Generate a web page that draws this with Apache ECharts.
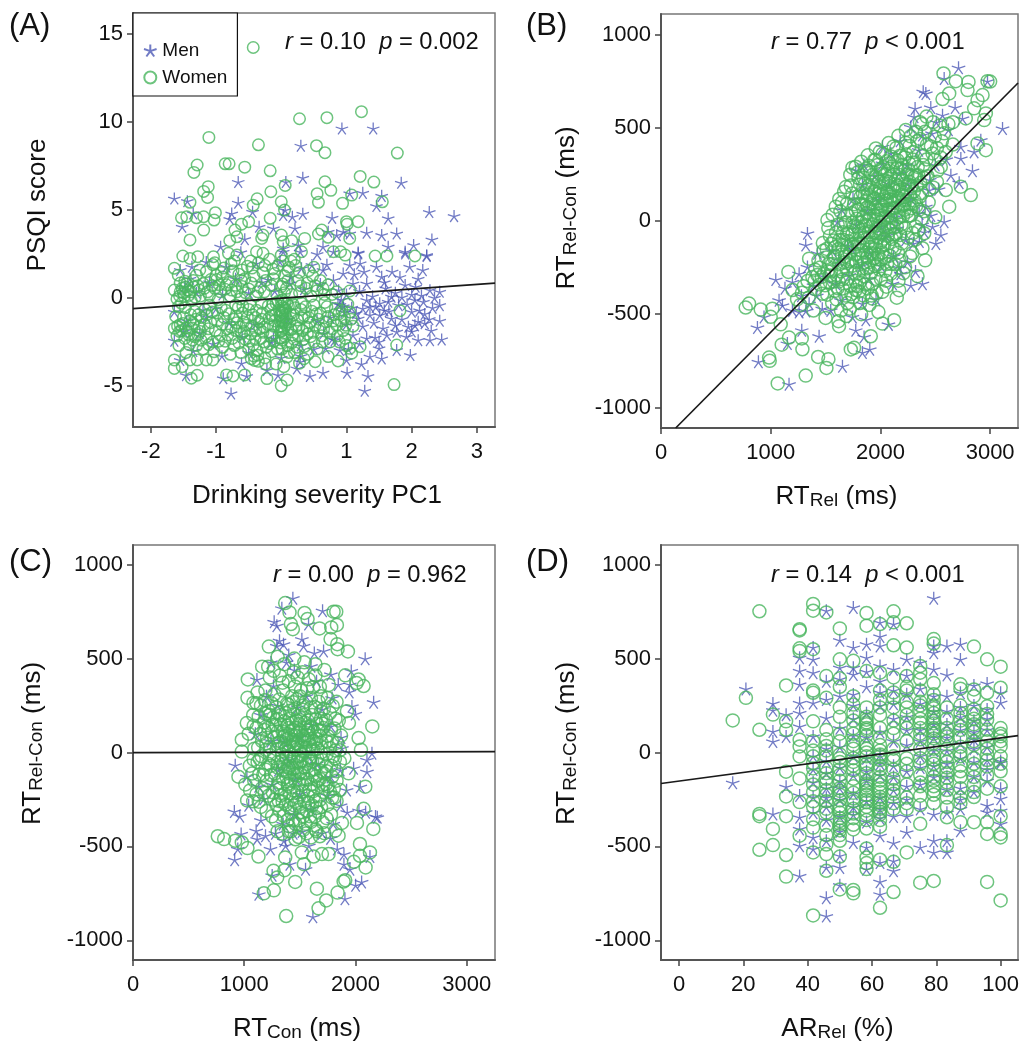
<!DOCTYPE html>
<html><head><meta charset="utf-8">
<style>html,body{margin:0;padding:0;background:#fff}#c{width:1033px;height:1050px}</style>
<script src="https://cdn.jsdelivr.net/npm/echarts@6/dist/echarts.min.js"></script>
</head><body><div id="c"></div>
<script>
const menA=[[-1.64,5.66],[-1.44,5.51],[-1.35,4.81],[-1.52,4.05],[-.66,6.6],[-.66,5.42],[-.76,4.8],[-.79,4.49],[-.44,4.9],[.07,6.6],[.33,6.84],[.3,8.66],[.93,9.64],[1.41,9.64],[1.84,6.55],[1.05,5.95],[1.25,5.98],[1.54,5.81],[1.46,5.23],[2.27,4.89],[2.65,4.66],[1.64,4.53],[.78,4.56],[.33,4.79],[.06,5],[.03,4.72],[.17,4.62],[-.12,3.96],[-.34,4.05],[.21,3.96],[-.56,3.35],[-.93,2.92],[.03,2.82],[.26,3.01],[.64,2.92],[.72,3.77],[.85,3.58],[.95,3.77],[1.05,3.67],[1.31,3.71],[1.54,3.58],[1.77,3.67],[2.31,3.33],[2.03,3.01],[1.64,2.92],[1.9,2.63],[2.23,2.39],[1.18,2.59],[.8,2.63],[.03,2.63],[.29,2.63],[1.18,2.54],[1.9,2.54],[2.23,2.44],[-1.55,1.59],[-1.37,1.78],[-.84,1.78],[-.38,1.97],[-.02,2.06],[.31,1.69],[.47,1.88],[.64,1.59],[1.05,1.88],[1.21,1.97],[1.46,1.78],[1.7,1.5],[1.97,1.78],[2.17,1.59],[.13,.83],[.8,1.02],[.95,1.4],[1.1,.83],[1.31,.83],[1.54,1.21],[1.9,.74],[2.06,.64],[2.28,.45],[2.43,.36],[-1.64,-.78],[-1.15,-1.06],[-1.2,-.68],[.9,-.4],[.87,-.32],[.95,-.47],[2.05,-.11],[2.18,-.21],[2.43,-.4],[1.31,-.11],[1.51,-.3],[1.64,-.21],[1.69,.08],[1.18,-1.16],[1.36,-.97],[1.51,-.97],[1.69,-1.16],[2,-.78],[1.95,-1.63],[2.1,-1.34],[2.2,-1.43],[2.43,-1.29],[1.56,-1.72],[1.77,-1.91],[1.92,-2.2],[2.1,-2.39],[2.28,-2.39],[2.46,-2.35],[.82,-2.39],[1.31,-2.29],[1.5,-2.48],[1.44,-2.24],[1.5,-2.86],[1.77,-2.95],[1.98,-3.24],[1.36,-3.33],[1.54,-3.43],[1.23,-3.75],[1,-3.52],[1.01,-4.24],[1.33,-4.43],[1.28,-5.27],[.64,-4.24],[.44,-4.43],[-.05,-4.38],[.24,-4],[.29,-3.62],[-.53,-4.43],[-.89,-4.56],[-.77,-5.42],[-1.46,-4.38],[-1.55,-3.52],[-1.64,-2.42],[-.91,-3.3],[-.61,-3.71],[-.22,-4.09],[-.12,-2.29],[.78,-2.33],[-1.4,1.1],[-1.3,.3],[-1.1,.9],[-.9,.2],[-.7,1.1],[-.5,.3],[-.3,.9],[-.1,.4],[.15,1.2],[.35,.5],[.6,.8],[1,.2],[1.2,.4],[1.4,.1],[1.6,.55],[1.75,.3],[2,.2],[2.15,.15],[-1.45,-1.3],[-1.25,-2],[-1.05,-2.6],[-.8,-1.4],[-.6,-2.2],[-.4,-1.5],[-.15,-2.5],[.1,-1.2],[.3,-2.7],[.55,-1.3],[.75,-1.1],[1,-1.5],[1.25,-.6],[1.45,-.5],[1.8,-.4],[1.85,-1.2],[2,-1.9],[2.2,-.9],[2.3,-1.85],[1.1,-2.1],[1.25,-1.6],[.65,-2],[-1.5,-1.9],[-1.35,-3],[-1,-.6],[-.5,-3.1],[0,-3.4],[.3,-3.3],[.5,-2.9],[.9,-2.95],[1.12,1.35],[1.27,1.5],[1.58,.9],[1.82,1.2],[2.1,1.1],[1.36,-.5],[1.58,-.7],[1.93,-.35],[1.08,-.55],[1.15,-.85],[1.42,-1.4],[1.65,-.75],[1.75,-1.55],[2.12,-.7],[2.32,-.55],[2.27,-1.2],[2.05,-1.55],[1.62,-2.1],[1.2,-2.6],[.97,-.8],[.92,-.1],[.88,.45],[.7,1.9],[.55,2.5],[-.2,1.05],[-.62,2.6],[-1.15,2.05],[-1.48,.65],[1.85,.05],[2.35,.02],[1.03,-2.9],[.68,-2.85]];
const womenA=[[-.43,14.24],[1.23,10.59],[.28,10.19],[.7,10.25],[-1.11,9.13],[-.35,8.71],[.54,8.66],[.67,8.26],[1.78,8.24],[-1.29,7.56],[-1.34,7.14],[-.86,7.63],[-.8,7.63],[-.56,7.44],[-.17,7.23],[1.21,6.91],[1.42,6.59],[.67,6.61],[.76,6.12],[.06,6.4],[-1.12,6.33],[-1.19,6.06],[-1.13,5.72],[-.37,5.64],[-.16,6.04],[.55,5.93],[.57,5.44],[0,5.47],[-.43,5.28],[-1.4,5.44],[.94,5.38],[1.08,5.85],[1.55,5.47],[.05,5],[-1.53,4.56],[-1.45,4.62],[-1.3,4.56],[-1.19,4.62],[-1.01,4.85],[-1.03,4.43],[-1.19,3.86],[-.61,4.2],[-.5,4.34],[-.17,4.53],[1,4.34],[1.18,4.34],[1.01,4.2],[-1.4,3.3],[-.71,3.86],[-.68,3.48],[-.79,3.26],[-.3,3.39],[-.28,3.58],[0,3.58],[.03,3.2],[.16,3.26],[.36,3.39],[.62,3.86],[.57,3.64],[.72,3.45],[1.05,3.39],[-1.51,2.39],[-1.4,2.25],[-1.28,2.35],[-1.04,2.35],[-.81,2.54],[-.68,2.44],[-.38,2.63],[-.28,2.54],[0,2.44],[.31,2.63],[.8,2.63],[.91,2.63],[.98,2.44],[1.44,2.39],[1.62,2.39],[2.05,2.39],[-1.64,1.69],[-1.64,.45],[-1.64,-1.72],[-1.64,-3.52],[-1.64,-4],[-1.52,-3.9],[-1.38,-4.56],[-1.29,-4.39],[-1.29,-3.52],[-1.4,-3.52],[-1.15,-3.52],[-1.05,-3.52],[-.84,-4.37],[-.74,-4.43],[-.56,-4.37],[-.22,-4.58],[0,-4.98],[.09,-4.66],[.52,-3.62],[.72,-3.33],[.87,-3.58],[1.08,-3.14],[1.05,-2.86],[1.21,-2.77],[1.77,-2.67],[1.73,-4.92],[1.82,-.72],[-1.58,1.3],[-1.55,.85],[-1.52,.55],[-1.5,.3],[-1.47,.62],[-1.42,.15],[-1.35,1],[-1.28,.7],[-1.25,1.6],[-1.15,1.5],[-1.05,1.9],[-1,1.3],[-.95,.75],[-.88,1.7],[-.8,.9],[-.72,2.1],[-.65,1.35],[-.6,.65],[-.52,1.8],[-.42,1.25],[-.35,2],[-.28,1.45],[-.18,2.2],[-.1,1.4],[-.05,1.85],[.02,2.1],[.05,1.25],[.08,.55],[.12,1.75],[.2,2.2],[.25,1],[.38,.55],[.48,1.25],[.55,.42],[.66,.2],[.72,.75],[-1.58,-.5],[-1.55,-1.5],[-1.5,-1.1],[-1.47,-.55],[-1.44,-1.9],[-1.4,-1.3],[-1.36,-2.4],[-1.33,-.75],[-1.3,-2.7],[-1.26,-1.65],[-1.22,-1.1],[-1.2,-2.9],[-1.12,-1.75],[-1.1,-.4],[-1.05,-2.5],[-.98,-1.3],[-.92,-.55],[-.9,-2.8],[-.83,-1.75],[-.8,-.9],[-.75,-2.3],[-.7,-.4],[-.68,-1.4],[-.65,-2.55],[-.6,-.85],[-.57,-1.9],[-.52,-1.1],[-.5,-2.9],[-.48,-.35],[-.45,-1.6],[-.42,-3.3],[-.4,-2.3],[-.38,-.7],[-.35,-3.6],[-.3,-1.2],[-.28,-1.95],[-.25,-3.4],[-.2,-.45],[-.18,-2.6],[-.15,-1],[-.12,-1.6],[-.08,-3.75],[-.05,-.2],[-.03,-.7],[-.02,-1.3],[-.01,-1.9],[0,-.45],[0,-1.05],[0,-1.6],[0,-2.25],[.01,-2.9],[.02,-.1],[.02,-.85],[.03,-1.4],[.03,-2],[.04,-3.9],[.05,.3],[.06,-.6],[.08,-1.15],[.1,-2.7],[.12,-3.1],[.15,-1.8],[.18,-.35],[.2,-2.35],[.25,-1.25],[.28,-3.7],[.3,-.65],[.33,-1.85],[.36,-2.75],[.42,-1.1],[.45,-2.2],[.5,-.4],[.52,-1.55],[.55,-2.9],[.6,-.85],[.65,-1.75],[.7,-.5],[.75,-2.5],[.8,-1.3],[.88,-.9],[.95,-1.85],[1,-2.7],[1.05,-.8],[1.1,-1.6],[1.05,.4],[.85,.35],
[-1.6,-.05],[-1.56,.12],[-1.53,-.3],[-1.48,.95],[-1.43,.45],[-1.38,-.15],[-1.34,.62],[-1.3,1.3],[-1.24,.1],[-1.2,.82],[-1.13,.35],[-1.08,1.05],[-1.02,.55],[-.97,-.1],[-.9,1.2],[-.86,.5],[-.78,.1],[-.74,1.55],[-.7,.72],[-.63,-.05],[-.56,1.1],[-.5,.52],[-.45,1.7],[-.39,.12],[-.32,.6],[-.24,1],[-.15,.7],[-.07,.2],[.02,.8],[.1,1.55],[.16,.2],[.22,1.85],[.3,.7],[.42,1.55],[.46,.1],[.6,1],[.64,.55],[.78,.2],[-1.62,-1.05],[-1.6,-2.15],[-1.57,-2.7],[-1.53,-1.85],[-1.48,-2.3],[-1.46,-3.1],[-1.41,-2.65],[-1.37,-1.7],[-1.31,-1.2],[-1.28,-2.1],[-1.23,-2.4],[-1.17,-.65],[-1.15,-2.2],[-1.08,-1.4],[-1.03,-3.05],[-.98,-.85],[-.94,-2.1],[-.88,-1.1],[-.86,-2.45],[-.78,-3.2],[-.73,-1.2],[-.7,-1.85],[-.66,-.55],[-.62,-3.1],[-.58,-1.35],[-.55,-2.35],[-.5,-.65],[-.47,-2.05],[-.43,-2.65],[-.4,-1.1],[-.37,-3],[-.33,-1.75],[-.3,-.3],[-.27,-2.5],[-.24,-3.75],[-.21,-1.5],[-.16,-.65],[-.14,-2.1],[-.1,-1.3],[-.08,-.3],[-.06,-2.9],[-.04,-1.65],[-.02,-.95],[-.01,-2.55],[0,-.15],[.01,-.75],[.01,-1.3],[.01,-1.85],[.02,-2.4],[.03,-.55],[.03,-1.15],[.04,-1.7],[.05,-.25],[.06,-.95],[.06,-2.2],[.07,-1.5],[.09,-3.35],[.11,-.45],[.13,-1.35],[.16,-2.55],[.19,-.95],[.23,-1.6],[.26,-2.15],[.31,-.3],[.35,-1],[.39,-1.65],[.41,-3.2],[.47,-.75],[.5,-2.5],[.57,-1.2],[.62,-2.15],[.67,-.25],[.72,-1.05],[.78,-1.75],[.83,-.6],[.86,-2.15],[.92,-1.3],[.98,-2.3],[1.02,-.35],[1.07,-1.2],[-.15,-3.05],[.35,-3.45],[.2,-3.1],
[-1.59,-1.6],[-1.56,-1.9],[-1.51,-1.45],[-1.46,-1.7],[-1.42,-2.1],[-1.39,-.95],[-1.35,-1.45],[-1.33,-2.2],[-1.27,-.95],[-1.24,-1.9],[-1.18,-1.5],[-1.14,-.95],[-1.11,-2.65],[-1.06,-.8],[-1.01,-1.85],[-.96,-2.45],[-.91,-1.5],[-.85,-.7],[-.82,-2.1],[-.77,-1.65],[-.72,-2.7],[-.69,-1.05],[-.64,-1.65],[-.61,-2.05],[-.59,-.45],[-.54,-1.55],[-.49,-2.45],[-.46,-3.45],[-.44,-.95],[-.41,-3.55],[-.39,-1.85],[-.36,-3.25],[-.34,-1.35],[-.31,-2.3],[-.29,-.85],[-.26,-1.65],[-.23,-2.8],[-.19,-1.15],[-.17,-2.15],[-.13,-.35],[-.11,-2.45],[-.09,-.95],[.07,-.7],[.09,-.3],[.1,-1.75],[.14,-.9],[.17,-2.1],[.21,-.55],[.24,-2.8],[.27,-1.7],[.32,-1.15],[.34,-2.35],[.37,-.5],[.4,-2.05],[.44,-1.4],[.49,-1.95],[.54,-.9],[.59,-1.7],[.63,-2.5],[.69,-1.35],[.74,-1.95],[.81,-.95],[.85,-1.55],[.89,-2.5],[.93,-.7],[.97,-1.1],[.99,-1.55],[-1.55,.35],[-1.49,.1],[-1.45,.8],[-1.39,.35],[-1.32,.05],[-1.26,.45],[-1.18,.55],[-1.1,.15],[-1.06,.7],[-.99,1.05],[-.93,.35],[-.84,.75],[-.76,.45],[-.68,.35],[-.61,1],[-.55,.3],[-.46,.85],[-.36,.35],[-.26,.35],[-.12,1.1],[0,.65],[.1,1],[.28,.3],[.4,.85],[.52,.7],[-1.02,2],[-.92,1.45],[-.77,1.95],[-.6,1.6],[-.47,2.1],[-.25,1.85],[-.13,1.65],[.15,2.1],[.28,1.45],[.5,1.75]];
const menB=[[2712,822],[2581,764],[2976,750],[2390,693],[2414,684],[2316,604],[2459,609],[2681,609],[2566,568],[2307,559],[2748,550],[3113,496],[2277,505],[2915,434],[2733,398],[2019,398],[2095,363],[2854,371],[2733,336],[2839,270],[2642,246],[2718,205],[1775,273],[1836,193],[2444,166],[2581,-4],[2475,-30],[2551,-75],[2505,-120],[1608,-4],[1335,-66],[1319,-129],[1426,-173],[2353,41],[2414,77],[2383,461],[2171,255],[2019,309],[1046,-314],[879,-571],[1076,-425],[939,-514],[1283,-586],[1441,-618],[1152,-657],[888,-755],[1167,-875],[1654,-779],[1836,-705],[1903,-688],[1851,-621],[1775,-586],[2073,-554],[1867,-529],[1745,-514],[1547,-479],[2383,-336],[2277,-345],[2186,-282],[2247,-220],[1259,-488],[1320,-482],[1350,-443],[1198,-479],[1107,-452],[1259,-282],[1198,-327],[1335,-246],[1593,-336],[1715,-291],[2110,-336],[1836,-443],[2500,300],[2350,380],[2450,220],[2280,120],[2180,430],[2080,200],[1980,110],[1880,60],[1780,-20],[1700,-130],[1620,-210],[1900,-170],[2050,-80],[2150,-40],[2300,-120],[2400,-60],[1420,-400],[1500,-300],[1900,-310],[2000,-240],[2120,-190],[1650,60],[1750,120],[1850,300],[1950,240],[2240,300],[1130,-360],[1280,-400],[1390,-345],[1470,-470],[1640,-425],[1960,-420],[2170,-250],[2320,-270],[2355,-110],[2460,30],[2530,170],[2600,330],[2470,470],[2510,530],[2620,490],[2250,200],[2130,20],[2010,-30],[1740,-150],[1560,-160],[1830,-240],[2230,-100],[2380,-20]];
const womenB=[[2575,791],[2687,750],[2803,746],[2976,750],[3000,748],[2794,702],[2627,684],[2566,654],[2931,675],[2885,648],[2854,604],[2778,550],[2961,577],[2946,541],[2164,457],[2231,488],[2322,479],[1958,389],[1943,327],[1775,291],[1745,286],[2885,416],[2961,380],[2596,166],[2733,184],[2824,139],[2627,77],[1669,157],[1593,77],[1517,5],[2399,-66],[2383,-146],[772,-464],[803,-443],[909,-475],[1015,-470],[1000,-514],[1091,-554],[1167,-625],[1100,-663],[1283,-630],[1289,-688],[985,-732],[991,-750],[1432,-729],[1526,-741],[1508,-788],[1319,-829],[1064,-871],[1730,-689],[1760,-680],[1912,-618],[1617,-537],[1623,-564],[2018,-550],[2125,-532],[1982,-488],[1927,-416],[2018,-380],[2149,-411],[2171,-371],[2338,-296],[2408,-211],[1350,-202],[1161,-273],[1240,-420],[1300,-350],[1380,-300],[1390,-480],[1450,-250],[1470,-390],[1480,-160],[1500,-520],[1540,-80],[1540,-330],[1560,-230],[1560,-440],[1590,-140],[1610,-20],[1610,-360],[1640,-270],[1640,-480],[1650,100],[1660,-100],[1680,-190],[1680,-400],[1700,30],[1700,-310],[1720,-60],[1720,-470],[1730,190],[1745,-240],[1760,90],[1760,-140],[1775,-370],[1790,-30],[1800,230],[1800,-280],[1815,-440],[1820,130],[1830,-200],[1840,20],[1850,-90],[1860,-340],[1870,280],[1880,170],[1890,-250],[1900,70],[1905,-140],[1915,-30],[1920,-400],[1930,210],[1940,-200],[1950,120],[1955,-310],[1965,10],[1975,300],[1980,-90],[1990,-260],[2000,180],[2005,60],[2015,-170],[2020,360],[2030,-30],[2040,250],[2050,-320],[2060,110],[2070,-120],[2080,310],[2090,20],[2100,-230],[2110,180],[2120,400],[2130,70],[2140,-70],[2150,280],[2160,-170],[2170,120],[2180,350],[2190,-20],[2200,220],[2210,-280],[2220,60],[2230,420],[2240,160],[2250,-90],[2260,310],[2270,-190],[2280,30],[2290,240],[2300,370],[2310,110],[2320,-30],[2330,190],[2340,290],[2350,60],[2360,440],[2380,150],[2400,230],[2420,330],[2440,100],[2460,400],[2480,180],[2500,20],[2520,270],[2550,340],[2580,470],[2620,520],[2480,530],[2420,560],[2380,520],[1850,-30],[1925,90],[1985,-40],[2045,60],[2095,130],[1895,-60],[1960,-130],[2025,-60],[2085,-50],[2145,10],[1835,-120],[1780,-220],[1720,-170],[1800,60],[1870,110],[1940,30],[2010,140],[2075,210],[2155,190],[2215,130],[2265,90],[1985,210],[2055,320],[1910,260],[1860,200],[2125,250],[2185,280],[2245,250],[2000,-10],[1945,-60],[1870,-170],[1815,-70],[1755,-30],[1695,-70],[1650,-180],[1600,-290],[1810,-330],[1750,-410],[1690,-510],[1600,-420],[1530,-230],[1450,-340],[1900,-220],[1980,-180],[2060,-230],[2130,-150],[1200,-370],[1270,-450],
[1285,-385],[1345,-412],[1405,-365],[1515,-395],[1585,-375],[1655,-362],[1735,-392],[1805,-378],[1885,-362],[1965,-384],[2055,-352],[1335,-322],[1425,-290],[1495,-345],[1575,-325],[1655,-312],[1725,-348],[1775,-322],[1845,-296],[1925,-338],[2005,-310],[2095,-282],[2165,-320],[1405,-262],[1485,-282],[1545,-292],[1625,-232],[1695,-262],[1765,-278],[1835,-255],[1915,-278],[1975,-232],[2045,-268],[2135,-232],[2225,-248],[1435,-212],[1505,-196],[1585,-188],[1665,-222],[1735,-208],[1795,-176],[1855,-222],[1925,-178],[2005,-208],[2085,-186],[2175,-210],[2290,-172],[1475,-118],[1555,-122],[1625,-102],[1705,-108],[1775,-96],[1825,-158],[1885,-118],[1945,-148],[2035,-128],[2105,-96],[2195,-120],[2320,-100],[1525,-38],[1595,-62],[1665,-22],[1745,-72],[1805,-118],[1865,-22],[1905,-88],[1995,-62],[2065,-36],[2125,-72],[2225,-38],[2350,-48],[1565,34],[1635,52],[1685,-8],[1735,42],[1785,12],[1825,-10],[1875,42],[1955,72],[2025,12],[2105,44],[2175,22],[2255,28],[2375,10],[1625,118],[1695,92],[1775,128],[1845,88],[1905,132],[1975,62],[2045,108],[2115,96],[2195,82],[2275,68],[2395,52],[1685,182],[1745,148],[1815,196],[1885,142],[1955,172],[2025,198],[2085,152],[2145,132],[2235,112],[2305,160],[2445,168],[1725,248],[1795,262],[1845,232],[1925,246],[1995,252],[2065,268],[2135,198],[2205,172],[2285,188],[2365,205],[2515,210],[1825,318],[1895,296],[1955,328],[2025,288],[2105,292],[2175,246],[2255,276],[2325,242],[2405,278],[2495,328],[1885,352],[1995,372],[2095,346],[2155,326],[2235,358],[2305,312],[2385,352],[2475,362],[2550,290],[2075,418],[2145,392],[2265,402],[2335,428],[2425,410],[2515,392],[2595,370],[2275,454],[2405,478],[2495,452],[2560,428],[2660,410],[2360,530],[2540,512],[2660,530],
[1745,-8],[1775,55],[1805,-42],[1825,90],[1855,-62],[1875,-2],[1885,75],[1905,12],[1925,-118],[1935,-18],[1945,158],[1965,-65],[1975,40],[1985,95],[2000,-115],[2010,30],[2015,85],[2035,-95],[2045,20],[2055,150],[2065,-80],[2075,62],[2085,115],[2100,-12],[2110,70],[2120,-35],[2125,165],[2135,110],[2150,-30],[2160,50],[2170,165],[2180,-75],[2195,140],[2205,25],[2215,90],[2225,200],[2245,50],[2255,195],[2270,140],[2285,90],[2295,-65],[2310,235],[2325,80],[1840,150],[1855,270],[1895,190],[1915,-170],[1935,115],[1965,225],[1985,148],[2005,280],[2030,160],[2050,215],[2070,160],[2090,240],[2110,-140],[2130,315],[2165,225],[2200,300],[2220,340],[2265,210],[2295,330],[2345,245],[2360,130],[2390,300],[2430,240],[1870,-255],[1880,-195],[1950,-240],[1965,-205],[2020,-135],[2035,-195],[1695,-140],[1715,-215],[1735,-125],[1770,-180],[1790,-125],[1660,-60],[1650,-130],[1620,-150],[1575,-105],[1575,-195],[1510,-150],[1520,-270],[1620,-325],[1700,-225],[1790,-350],[1845,-400],[1900,-450],[1825,-500],[1700,-440],[1550,-270],[1465,-300],[1400,-320]];
const menC=[[1437,822],[1338,768],[1704,755],[1269,696],[1293,675],[1578,684],[1317,595],[1518,604],[1293,568],[1353,577],[1533,568],[2087,500],[1713,541],[1962,434],[1779,416],[1114,389],[1845,362],[1950,362],[1944,323],[2163,268],[1968,246],[1998,205],[1263,354],[2148,-4],[2103,-39],[2103,-102],[1983,-84],[1878,23],[919,-68],[1024,-129],[1308,-93],[1863,-93],[2043,-182],[911,-314],[960,-339],[972,-434],[942,-514],[914,-571],[1107,-416],[1191,-443],[1116,-461],[1236,-514],[1371,-496],[1356,-470],[1581,-496],[1776,-457],[1836,-514],[1896,-541],[1896,-595],[1950,-621],[1410,-595],[1551,-621],[1251,-654],[1131,-755],[2055,-689],[2001,-707],[1905,-779],[1617,-875],[2196,-345],[2180,-340],[2091,-318],[2031,-309],[2130,-554],[1926,-318],[1866,-282],[1446,-327],[1176,-246],[1400,520],[1450,440],[1600,460],[1650,380],[1200,300],[1300,250],[1150,200],[1700,230],[1780,140],[1500,80],[1600,150],[1350,60],[1400,-40],[1650,-60],[1250,-170],[1500,-220],[1750,-230],[1600,-300],[1350,-380],[1800,-380],[1480,240],[1560,300],[1240,480],[1380,480],[1630,530],[1790,290],[1870,80],[1920,-200],[1780,-130],[1150,-360],[1280,-430],[1440,-430],[1520,-420],[1700,-430],[1040,-280],[1130,-180],[1100,100],[1240,60],[1460,-140],[1560,-10]];
const womenC=[[1368,796],[1407,746],[1542,743],[1419,684],[1437,657],[1569,711],[1803,750],[1827,750],[1833,679],[1782,666],[1677,661],[1776,604],[1836,577],[1839,550],[1932,538],[1221,564],[1161,457],[1215,457],[1032,389],[1029,291],[1083,264],[1908,411],[2028,389],[2073,354],[2010,370],[1941,157],[2151,139],[1923,220],[2028,77],[2049,14],[1023,157],[978,68],[978,5],[948,-129],[1938,-111],[2088,-182],[762,-446],[819,-461],[918,-470],[978,-479],[1029,-509],[1128,-554],[1053,-202],[1026,-255],[1263,-630],[1362,-627],[1458,-689],[1296,-666],[1176,-750],[1266,-734],[1653,-725],[1737,-788],[1668,-830],[1377,-871],[1839,-746],[1893,-687],[1908,-680],[2091,-612],[1986,-582],[2040,-550],[2130,-532],[2040,-487],[2013,-375],[2160,-407],[2073,-300],[1878,-375],[1848,-443],[1818,-416],[1518,-532],[1623,-554],[1698,-541],[1758,-541],[1536,-595],[1368,-559],[1300,510],[1360,470],[1450,500],[1540,480],[1640,470],[1720,440],[1230,400],[1320,410],[1400,380],[1480,400],[1580,390],[1680,350],[1760,360],[1120,320],[1190,330],[1270,310],[1350,330],[1430,300],[1510,330],[1600,290],[1670,270],[1750,290],[1830,270],[1080,200],[1150,250],[1220,220],[1290,240],[1370,210],[1450,230],[1530,250],[1610,200],[1690,180],[1770,210],[1850,170],[1040,100],[1110,130],[1180,160],[1250,110],[1330,150],[1400,130],[1470,170],[1550,130],[1630,110],[1710,130],[1790,60],[1870,90],[1090,20],[1160,60],[1230,30],[1310,50],[1380,70],[1450,30],[1520,60],[1590,40],[1660,20],[1740,-10],[1820,10],[1900,-30],[1050,-70],[1120,-50],[1190,-90],[1270,-30],[1340,-10],[1420,-50],[1490,-20],[1560,-60],[1630,-90],[1700,-40],[1780,-70],[1860,-50],[1010,-170],[1090,-150],[1160,-190],[1240,-120],[1310,-160],[1380,-130],[1460,-150],[1530,-110],[1600,-170],[1680,-140],[1750,-180],[1830,-150],[1080,-260],[1150,-290],[1220,-230],[1290,-280],[1360,-220],[1430,-250],[1500,-290],[1570,-230],[1640,-260],[1710,-210],[1790,-240],[1860,-200],[1250,-340],[1320,-310],[1390,-360],[1460,-380],[1530,-340],[1600,-370],[1670,-320],[1740,-350],[1300,-420],[1420,-420],[1490,-450],[1560,-430],[1640,-410],[1720,-430],[1440,120],[1520,-10],[1350,-60],[1470,-80],[1580,90],[1410,180],[1500,120],[1620,60],[1380,20],[1460,90],[1540,200],[1330,-230],[1480,-210],
[1265,435],[1345,372],[1455,352],[1525,428],[1620,348],[1110,262],[1185,278],[1245,262],[1315,282],[1395,254],[1475,284],[1555,272],[1635,242],[1715,232],[1795,248],[1130,192],[1190,206],[1260,186],[1325,198],[1410,222],[1490,196],[1570,170],[1655,152],[1735,172],[1810,128],[1085,142],[1145,98],[1215,132],[1280,148],[1345,112],[1425,92],[1495,152],[1565,92],[1610,128],[1680,88],[1750,88],[1835,52],[1125,26],[1195,14],[1270,78],[1335,26],[1405,42],[1470,16],[1550,24],[1620,16],[1695,52],[1770,24],[1860,12],[1085,-38],[1155,-20],[1230,-14],[1300,-52],[1375,-22],[1440,-88],[1515,-42],[1595,-28],[1665,-60],[1735,-72],[1815,-32],[1070,-112],[1135,-118],[1205,-148],[1275,-112],[1345,-92],[1405,-108],[1480,-122],[1565,-142],[1640,-128],[1715,-112],[1790,-128],[1110,-222],[1185,-214],[1255,-212],[1320,-192],[1395,-178],[1445,-202],[1520,-170],[1585,-198],[1660,-186],[1735,-168],[1805,-192],[1130,-262],[1200,-312],[1270,-252],[1345,-262],[1410,-296],[1470,-268],[1540,-262],[1610,-282],[1680,-252],[1750,-278],[1830,-258],[1285,-362],[1355,-338],[1425,-322],[1495,-362],[1565,-312],[1635,-342],[1705,-372],[1780,-330],[1340,-432],[1460,-462],[1530,-412],[1600,-452],[1680,-446],[1400,-392],[1385,260],[1565,342],[1445,428],[1640,410],[1500,-50],[1425,-12],[1525,90],[1365,88],[1480,48],[1610,-46],[1390,-72],
[1295,178],[1360,168],[1385,142],[1430,158],[1465,132],[1505,172],[1545,158],[1595,138],[1640,176],[1665,118],[1700,155],[1300,110],[1355,84],[1395,98],[1440,66],[1485,106],[1535,70],[1575,118],[1605,72],[1645,48],[1685,118],[1290,18],[1330,58],[1365,40],[1400,6],[1435,58],[1465,50],[1505,26],[1535,4],[1570,58],[1605,6],[1650,72],[1690,0],[1300,-80],[1335,-48],[1370,-98],[1400,-82],[1440,-30],[1475,-48],[1500,-108],[1540,-80],[1580,-40],[1615,-118],[1655,-30],[1690,-98],[1295,-188],[1350,-142],[1390,-168],[1420,-148],[1450,-118],[1495,-165],[1545,-142],[1590,-95],[1620,-206],[1660,-150],[1710,-172],[1310,-258],[1375,-278],[1410,-218],[1450,-282],[1490,-240],[1530,-208],[1575,-268],[1625,-234],[1690,-292],[1770,-208],[1400,-420],[1435,-362],[1515,-318],[1550,-380],[1590,-340],[1650,-296],[1200,48],[1215,-60],[1170,-120],[1140,-35],[1205,78],[1240,-70],[1255,148],[1230,200],[1180,120],[1310,210],[1440,268],[1500,300],[1525,228],[1600,240],[1690,220],[1740,60],[1780,120],[1800,-20],[1830,-100],[1820,180],[1690,300],[1740,-100],[1810,-240],[1650,-420]];
const menD=[[79.2,822],[54.2,773],[45.8,755],[62.5,693],[66.7,684],[50,598],[62.5,618],[62.5,568],[58.3,577],[54.2,559],[41.7,559],[79.2,568],[79.2,532],[83.3,568],[87.5,577],[87.5,496],[37.5,505],[41.7,496],[41.7,425],[37.5,434],[37.5,363],[70.8,496],[58.3,505],[54.2,452],[50,452],[54.2,416],[62.5,461],[66.7,443],[75,479],[79.2,443],[83.3,413],[20.8,339],[29.2,261],[29.2,225],[33.3,202],[37.5,264],[37.5,211],[37.5,139],[41.7,264],[29.2,112],[29.2,59],[33.3,86],[41.7,86],[45.8,184],[100,318],[95.8,368],[91.7,357],[87.5,318],[83.3,300],[45.8,282],[50,300],[54.2,309],[16.7,-161],[33.3,-182],[29.2,-327],[37.5,-229],[41.7,-237],[37.5,-345],[37.5,-407],[37.5,-496],[41.7,-452],[41.7,-514],[45.8,-470],[50,-550],[50,-612],[45.8,-612],[50,-707],[45.8,-773],[45.8,-871],[37.5,-657],[54.2,-479],[58.3,-505],[58.3,-621],[62.5,-443],[62.5,-586],[62.5,-688],[62.5,-755],[66.7,-482],[66.7,-577],[66.7,-630],[70.8,-425],[75,-505],[79.2,-470],[79.2,-532],[83.3,-470],[83.3,-532],[87.5,-416],[100,-380],[95.8,-318],[95.8,-282],[100,-246],[100,-193],[41.7,-20],[41.7,-90],[41.7,-160],[45.8,20],[45.8,-45],[45.8,-110],[45.8,-190],[45.8,-290],[45.8,-360],[50,130],[50,30],[50,-80],[50,-150],[50,-250],[50,-340],[50,-420],[54.2,180],[54.2,90],[54.2,-20],[54.2,-120],[54.2,-220],[54.2,-330],[58.3,350],[58.3,210],[58.3,80],[58.3,-30],[58.3,-150],[58.3,-260],[58.3,-370],[62.5,380],[62.5,250],[62.5,110],[62.5,-10],[62.5,-120],[62.5,-240],[62.5,-350],[66.7,330],[66.7,180],[66.7,60],[66.7,-70],[66.7,-200],[66.7,-340],[70.8,310],[70.8,190],[70.8,40],[70.8,-100],[70.8,-250],[70.8,-340],[75,260],[75,120],[75,-20],[75,-170],[75,-300],[79.2,300],[79.2,150],[79.2,10],[79.2,-130],[79.2,-330],[83.3,220],[83.3,80],[83.3,-60],[83.3,-200],[83.3,-320],[87.5,240],[87.5,120],[87.5,-30],[87.5,-190],[87.5,-300],[91.7,250],[91.7,110],[91.7,-50],[91.7,-210],[95.8,230],[95.8,120],[95.8,30],[95.8,-90],[100,-55],[100,-45],[41.7,-320],[45.8,380],[50,390],[54.2,250],[58.3,430],[62.5,320],[66.7,260],[70.8,410],[75,340],[79.2,220],[83.3,150],[87.5,190],[91.7,170],[95.8,-150],[100,-310],[62.5,-300],[66.7,-270],[70.8,-180],[75,-80],[79.2,-70],[83.3,-130],[87.5,50],[91.7,20],[91.7,-130],[95.8,-40],[54.2,-290],[58.3,-100],[45.8,-240],[50,-190],[62.5,-60],[66.7,-130],[70.8,120],[75,60],[79.2,80],[83.3,10],[87.5,-250],[91.7,70],[95.8,180],[100,265]];
const womenD=[[25,752],[41.7,791],[41.7,755],[45.8,746],[37.5,657],[37.5,650],[37.5,541],[37.5,555],[41.7,550],[50,661],[58.3,743],[58.3,675],[66.7,752],[66.7,693],[70.8,688],[62.5,684],[66.7,571],[70.8,559],[91.7,564],[95.8,496],[100,457],[79.2,604],[79.2,580],[50,496],[54.2,488],[58.3,434],[62.5,425],[45.8,407],[33.3,357],[20.8,291],[16.7,171],[25,121],[29.2,202],[33.3,166],[33.3,121],[41.7,166],[41.7,318],[45.8,291],[37.5,68],[37.5,32],[37.5,-21],[33.3,-102],[37.5,-138],[75,461],[75,425],[70.8,407],[100,345],[100,86],[100,32],[87.5,363],[91.7,336],[95.8,318],[95.8,246],[95.8,175],[95.8,121],[95.8,-75],[25,-327],[25,-339],[25,-518],[29.2,-493],[29.2,-407],[33.3,-339],[33.3,-546],[33.3,-661],[33.3,-234],[37.5,-264],[37.5,-443],[41.7,-532],[41.7,-868],[45.8,-630],[45.8,-541],[50,-729],[50,-554],[54.2,-732],[54.2,-750],[58.3,-621],[58.3,-589],[58.3,-559],[58.3,-511],[62.5,-827],[62.5,-571],[66.7,-743],[66.7,-582],[70.8,-532],[75,-693],[75,-380],[79.2,-684],[83.3,-493],[83.3,-345],[87.5,-371],[91.7,-371],[95.8,-434],[95.8,-371],[95.8,-689],[100,-434],[100,-452],[100,-339],[100,-788],[91.7,-211],[91.7,-237],[95.8,-193],[41.7,330],[41.7,60],[41.7,10],[41.7,-55],[41.7,-125],[41.7,-170],[41.7,-210],[41.7,-290],[41.7,-355],[41.7,-400],[45.8,120],[45.8,70],[45.8,-20],[45.8,-80],[45.8,-140],[45.8,-225],[45.8,-260],[45.8,-320],[45.8,-390],[45.8,-440],[45.8,-490],[50,395],[50,350],[50,240],[50,190],[50,100],[50,60],[50,-10],[50,-120],[50,-190],[50,-225],[50,-285],[50,-320],[50,-380],[50,-440],[50,-470],[54.2,255],[54.2,210],[54.2,130],[54.2,60],[54.2,-50],[54.2,-95],[54.2,-180],[54.2,-260],[54.2,-300],[54.2,-350],[54.2,-410],[58.3,190],[58.3,150],[58.3,120],[58.3,40],[58.3,-60],[58.3,-110],[58.3,-190],[58.3,-225],[58.3,-290],[58.3,-330],[58.3,-405],[62.5,330],[62.5,280],[62.5,80],[62.5,40],[62.5,-40],[62.5,-90],[62.5,-170],[62.5,-210],[62.5,-265],[62.5,-300],[62.5,-395],[66.7,400],[66.7,320],[66.7,240],[66.7,100],[66.7,20],[66.7,-40],[66.7,-140],[66.7,-270],[70.8,350],[70.8,270],[70.8,130],[70.8,-30],[70.8,-170],[70.8,-300],[75,390],[75,330],[75,220],[75,180],[75,70],[75,-60],[75,-120],[75,-230],[79.2,370],[79.2,310],[79.2,250],[79.2,210],[79.2,170],[79.2,100],[79.2,50],[79.2,-40],[79.2,-90],[79.2,-180],[79.2,-270],[83.3,180],[83.3,130],[83.3,20],[83.3,-110],[83.3,-160],[83.3,-240],[83.3,-290],[87.5,340],[87.5,170],[87.5,80],[87.5,30],[87.5,-70],[87.5,-130],[87.5,-240],[87.5,-270],[91.7,300],[91.7,180],[91.7,150],[91.7,60],[91.7,-90],[91.7,-170],[100,100],[95.8,20],[100,-20],[100,-60],[95.8,-40],
[45.8,-160],[45.8,-200],[45.8,-300],[50,-50],[50,-150],[50,-255],[50,-350],[50,-415],[54.2,20],[54.2,100],[54.2,170],[54.2,-140],[54.2,-215],[54.2,-385],[58.3,160],[58.3,175],[58.3,130],[58.3,90],[58.3,0],[58.3,-20],[58.3,-150],[58.3,-165],[58.3,-250],[58.3,-265],[58.3,-360],[62.5,200],[62.5,130],[62.5,-10],[62.5,-130],[62.5,-190],[62.5,-235],[62.5,-280],[62.5,-330],[62.5,-360],[66.7,-200],[66.7,-90],[66.7,170],[70.8,200],[70.8,60],[70.8,-100],[70.8,-240],[75,270],[75,130],[75,20],[75,-180],[79.2,280],[79.2,235],[79.2,190],[79.2,155],[79.2,130],[79.2,75],[79.2,20],[79.2,-130],[79.2,-225],[83.3,240],[83.3,85],[83.3,-50],[83.3,-200],[87.5,250],[87.5,120],[87.5,-20],[87.5,-190],[91.7,230],[91.7,110],[91.7,-130],[95.8,60],[95.8,-120],[100,60],[100,-180],[66.7,290],[70.8,330],[75,250],[62.5,240],[58.3,240],[54.2,300],[50,-90],[45.8,10],[41.7,-85],
[50,-205],[50,-300],[50,-365],[50,-400],[54.2,-245],[54.2,-325],[58.3,-205],[58.3,-310],[58.3,-175],[62.5,-150],[62.5,-250],[62.5,-315],[66.7,-20],[66.7,130],[66.7,-300],[70.8,-60],[70.8,160],[75,-30],[75,100],[75,-280],[79.2,-20],[79.2,-60],[79.2,120],[83.3,60],[83.3,-20],[83.3,-80],[83.3,-135],[87.5,140],[87.5,0],[87.5,-100],[91.7,130],[91.7,40],[91.7,-30],[91.7,-60],[95.8,90],[95.8,-10],[45.8,-110],[45.8,35],[41.7,-20],[41.7,-260],[100,-100],[100,130],[75,-160],[79.2,-150],[70.8,-270],[66.7,-170],[66.7,-220],[54.2,-30],[54.2,-70],[58.3,-80],[62.5,-70],[62.5,-20],[62.5,10],[58.3,20],[50,-30],[54.2,40],[70.8,240],[75,160],[79.2,-205],[83.3,100],[87.5,210],[91.7,205],[95.8,205]];
const lineA=[[-2.274,-.6],[3.278,.85]];
const lineB=[[134,-1110],[3254,740]];
const lineC=[[0,-1],[3254,5]];
const lineD=[[-5.6,-165],[105.4,90]];
const ticksXA=[-2,-1,0,1,2,3], ticksYA=[-5,0,5,10,15];
const ticksRT=[0,1000,2000,3000], ticksDiff=[-1000,-500,0,500,1000], ticksAR=[0,20,40,60,80,100];

const F='"Liberation Sans",Arial,sans-serif';
const STAR='path://M10 10L10 0M10 10L19.5 6.9M10 10L15.9 18.1M10 10L4.1 18.1M10 10L.5 6.9';
const BLUE='#4d5ab6', GREEN='#48b55e';
const subs={s:{fontSize:19,fontFamily:F,color:'#111',verticalAlign:'bottom',lineHeight:26},n:{fontSize:26,fontFamily:F,color:'#111',verticalAlign:'bottom',lineHeight:26}};
const sub=(a,b,c)=>`{n|${a}}{s|${b}}{n|${c}}`;
const grids=[{left:133,top:13,width:362,height:414},{left:661,top:14,width:357,height:414},{left:133,top:545,width:362,height:415},{left:661,top:545,width:357,height:415}];
const plain=v=>String(v);
function xa(i,min,max,ticks,name,pad){return {gridIndex:i,type:'value',min,max,name,nameLocation:'middle',nameGap:56,
  nameTextStyle:{fontSize:26,fontFamily:F,color:'#111',rich:subs,padding:pad},splitLine:{show:false},
  axisLine:{onZero:false,lineStyle:{color:'#555',width:2}},axisTick:{customValues:ticks,length:6,lineStyle:{color:'#444',width:1.5}},
  axisLabel:{customValues:ticks,formatter:plain,fontSize:22,fontFamily:F,color:'#111',margin:14,showMinLabel:true,showMaxLabel:true}};}
function ya(i,min,max,ticks,name,gap,pad){return {gridIndex:i,type:'value',min,max,name,nameLocation:'middle',nameGap:gap,nameRotate:90,
  nameTextStyle:{fontSize:26,fontFamily:F,color:'#111',rich:subs,padding:pad},splitLine:{show:false},
  axisLine:{onZero:false,lineStyle:{color:'#555',width:2}},axisTick:{customValues:ticks,length:6,lineStyle:{color:'#444',width:1.5}},
  axisLabel:{customValues:ticks,formatter:plain,fontSize:22,fontFamily:F,color:'#111',margin:10,padding:[7,0,0,0]}};}
function pts(name,i,data,star,size){return {name,type:'scatter',xAxisIndex:i,yAxisIndex:i,data,symbol:star?STAR:'circle',symbolKeepAspect:true,symbolSize:size,silent:true,
  itemStyle:{color:'rgba(0,0,0,0)',borderColor:star?BLUE:GREEN,borderWidth:star?1.3:1.5}};}
function fit(i,data){return {type:'line',xAxisIndex:i,yAxisIndex:i,data,symbol:'none',silent:true,z:5,lineStyle:{color:'#1a1a1a',width:1.7}};}
function note(x,y,a,b){return {type:'text',left:x,top:y,z:10,style:{fontFamily:F,rich:{i:{fontStyle:'italic',fontSize:23.7,fontFamily:F,fill:'#111'},t:{fontSize:23.7,fontFamily:F,fill:'#111'}},text:`{i|r}{t| = ${a}}{i|p}{t| ${b}}`,fill:'#111'}};}
function tag(x,y,t){return {type:'text',left:x,top:y,z:10,style:{text:t,fontSize:31,fontFamily:F,fill:'#111'}};}
const chart=echarts.init(document.getElementById('c'),null,{renderer:'canvas'});
chart.setOption({animation:false,backgroundColor:'#fff',
 grid:grids.map(g=>({...g,show:true,borderColor:'#777',borderWidth:1.5,backgroundColor:'transparent',containLabel:false})),
 xAxis:[xa(0,-2.274,3.278,ticksXA,'Drinking severity PC1',[0,0,0,6]),xa(1,0,3254,ticksRT,sub('RT','Rel',' (ms)'),[0,6,0,0]),xa(2,0,3254,ticksRT,sub('RT','Con',' (ms)'),[0,34,0,0]),xa(3,-5.6,105.4,ticksAR,sub('AR','Rel',' (%)'),[0,4,0,0])],
 yAxis:[ya(0,-7.33,16.2,ticksYA,'PSQI score',82,[0,0,0,30]),ya(1,-1110,1110,ticksDiff,sub('RT','Rel-Con',' (ms)'),81,[0,0,0,26]),ya(2,-1105,1105,ticksDiff,sub('RT','Rel-Con',' (ms)'),87,[0,0,0,18]),ya(3,-1105,1105,ticksDiff,sub('RT','Rel-Con',' (ms)'),81,[0,0,0,18])],
 legend:{show:true,data:['Men','Women'],orient:'vertical',left:133,top:13,itemWidth:14,itemHeight:12,itemGap:8,padding:[28,10,9,10],
   borderColor:'#111',borderWidth:1.2,backgroundColor:'#fff',selectedMode:false,textStyle:{fontSize:19,fontFamily:F,color:'#111'},z:20},
 series:[pts('Men',0,menA,true,12.5),pts('Women',0,womenA,false,11.5),fit(0,lineA),
  pts('Men',1,menB,true,13.5),pts('Women',1,womenB,false,13),fit(1,lineB),
  pts('Men',2,menC,true,13.5),pts('Women',2,womenC,false,13),fit(2,lineC),
  pts('Men',3,menD,true,13.5),pts('Women',3,womenD,false,13),fit(3,lineD)],
 graphic:[tag(9,11,'(A)'),tag(526,11,'(B)'),tag(9,547,'(C)'),tag(526,547,'(D)'),
  note(285,30,'0.10  ','= 0.002'),note(771,30,'0.77  ','< 0.001'),note(273,563,'0.00  ','= 0.962'),note(771,563,'0.14  ','< 0.001')]
});
</script></body></html>
